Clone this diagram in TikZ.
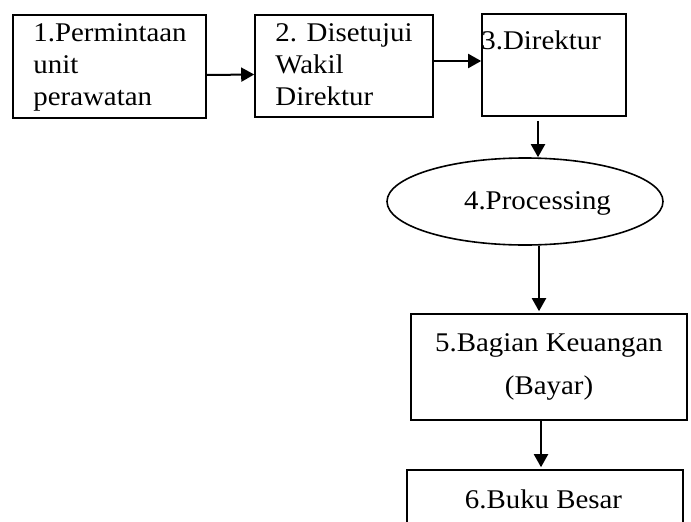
\documentclass[tikz,border=0pt]{standalone}
\usepackage{fontspec}
\setmainfont[FakeStretch=1.07]{Liberation Serif}
\usetikzlibrary{arrows.meta,shapes.geometric,positioning}

\begin{document}
\begin{tikzpicture}[x=1pt, y=1pt, font=\fontsize{27}{32}\selectfont,
  kotak/.style={draw, line width=1.6pt, inner sep=0pt},
  isi/.style={anchor=north west, align=left, inner sep=0pt},
  panah/.style={-{Triangle[length=13pt,width=14pt]}, line width=2pt}]
\clip (0,0) rectangle (691,-522);
% Kotak-kotak
\node[kotak, minimum width=193, minimum height=103] (minta) at (109.5,-66.5) {};
\node[kotak, minimum width=178, minimum height=102] (setuju) at (344,-66) {};
\node[kotak, minimum width=144, minimum height=102] (dir) at (554,-65) {};
\node[kotak, ellipse, minimum width=276, minimum height=87] (proses) at (525,-201.5) {};
\node[kotak, minimum width=276, minimum height=106, align=center] (bayar) at (549,-367)
  {5.Bagian Keuangan\\[11pt](Bayar)};
\node[kotak, minimum width=276, minimum height=90] (buku) at (545,-515) {};
% Tulisan
\node[isi] (tminta) at ([xshift=21,yshift=-9.3]minta.north west) {1.Permintaan\\unit\\perawatan};
\node[isi] (tsetuju) at ([xshift=21,yshift=-9.3]setuju.north west) {2. Disetujui\\Wakil\\Direktur};
\node[isi] (tdir) at ([xshift=0,yshift=-17.3]dir.north west) {3.Direktur};
\node[anchor=base, inner sep=0pt] (tproses) at (537.5,-209) {4.Processing};
\node[anchor=base, inner sep=0pt] (tbuku) at (543.5,-508) {6.Buku Besar};
% Panah
\draw[panah] ([yshift=-8.5]minta.east) -- ([yshift=-8.5]setuju.west);
\draw[panah] ([yshift=5]setuju.east) -- ([yshift=4]dir.west);
\draw[panah] ([xshift=-16,yshift=-4]dir.south) -- ([xshift=13]proses.north);
\draw[panah] ([xshift=14]proses.south) -- ([xshift=-10,yshift=2]bayar.north);
\draw[panah] ([xshift=-8]bayar.south) -- ([xshift=-4,yshift=2]buku.north);
\end{tikzpicture}
\end{document}
